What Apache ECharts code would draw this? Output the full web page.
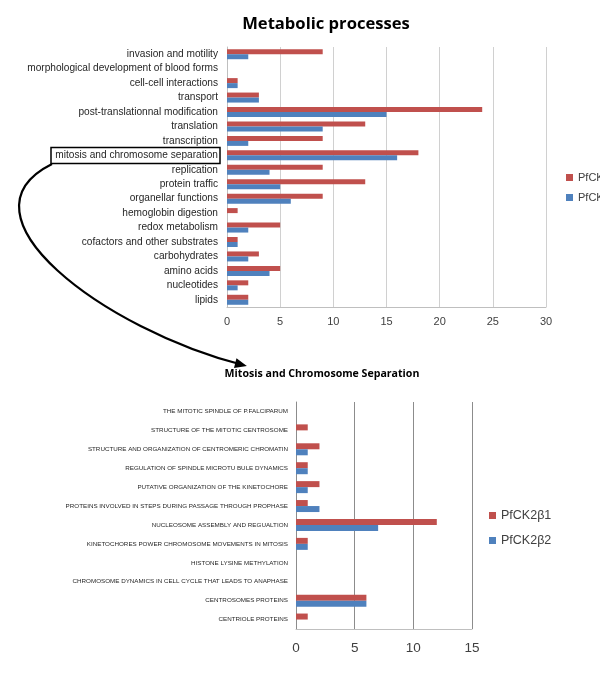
<!DOCTYPE html>
<html>
<head>
<meta charset="utf-8">
<script src="https://cdn.jsdelivr.net/npm/echarts@6/dist/echarts.min.js"></script>
<style>html,body{margin:0;padding:0;background:#fff}#c{width:600px;height:679px}</style>
</head>
<body>
<div id="c"></div>
<script>
// ---- Data: Metabolic processes ----
const metaCategories = [
  "invasion and motility",
  "morphological development of blood forms",
  "cell-cell interactions",
  "transport",
  "post-translationnal modification",
  "translation",
  "transcription",
  "mitosis and chromosome separation",
  "replication",
  "protein traffic",
  "organellar functions",
  "hemoglobin digestion",
  "redox metabolism",
  "cofactors and other substrates",
  "carbohydrates",
  "amino acids",
  "nucleotides",
  "lipids"
];
const metaB1 = [9, 0, 1, 3, 24, 13, 9, 18, 9, 13, 9, 1, 5, 1, 3, 5, 2, 2];
const metaB2 = [2, 0, 1, 3, 15, 9, 2, 16, 4, 5, 6, 0, 2, 1, 2, 4, 1, 2];
const metaTicks = [0, 5, 10, 15, 20, 25, 30];

// ---- Data: Mitosis and Chromosome Separation ----
const mitoCategories = [
  "THE MITOTIC SPINDLE OF P.FALCIPARUM",
  "STRUCTURE OF THE MITOTIC CENTROSOME",
  "STRUCTURE AND ORGANIZATION OF CENTROMERIC CHROMATIN",
  "REGULATION OF SPINDLE MICROTU BULE DYNAMICS",
  "PUTATIVE ORGANIZATION OF THE KINETOCHORE",
  "PROTEINS INVOLVED IN STEPS DURING PASSAGE THROUGH PROPHASE",
  "NUCLEOSOME ASSEMBLY AND REGUALTION",
  "KINETOCHORES POWER CHROMOSOME MOVEMENTS IN MITOSIS",
  "HISTONE LYSINE METHYLATION",
  "CHROMOSOME DYNAMICS IN CELL CYCLE THAT LEADS TO ANAPHASE",
  "CENTROSOMES PROTEINS",
  "CENTRIOLE PROTEINS"
];
const mitoB1 = [0, 1, 2, 1, 2, 1, 12, 1, 0, 0, 6, 1];
const mitoB2 = [0, 0, 1, 1, 1, 2, 7, 1, 0, 0, 6, 0];
const mitoTicks = [0, 5, 10, 15];

const topLegendNames = ["PfCK", "PfCK"];
const seriesNames = ["PfCK2β1", "PfCK2β2"];

const RED = '#C0504D', BLUE = '#4F81BD';
const FONT = 'Liberation Sans';

const chart = echarts.init(document.getElementById('c'), null, {renderer: 'canvas'});

// annotation curve geometry
const P0 = [52, 164], C1 = [-50, 215], C2 = [105, 330], P3 = [243, 365];
const dx = P3[0] - C2[0], dy = P3[1] - C2[1];
const len = Math.sqrt(dx*dx + dy*dy);
const ux = dx/len, uy = dy/len;
const ah = 12, aw = 5;
const tip = [P3[0] + ux*4, P3[1] + uy*4];
const base = [tip[0] - ux*ah, tip[1] - uy*ah];
const arrowPts = [tip, [base[0] - uy*aw, base[1] + ux*aw], [base[0] + uy*aw, base[1] - ux*aw]];

chart.setOption({
  animation: false,
  textStyle: {fontFamily: FONT},
  title: [
    {text: 'Metabolic processes', left: 321, top: 11, textAlign: 'center',
     textStyle: {fontFamily: 'Open Sans', fontWeight: 'bold', fontSize: 16.6, color: '#000'}},
    {text: 'Mitosis and Chromosome Separation', left: 317, top: 363, textAlign: 'center',
     textStyle: {fontFamily: 'Open Sans', fontWeight: 'bold', fontSize: 10.6, color: '#000'}}
  ],
  legend: [
    {orient: 'vertical', left: 561, top: 167, itemWidth: 7, itemHeight: 7, itemGap: 9,
     icon: 'rect', data: ['top1', 'top2'],
     formatter: function (n) { return n === 'top1' ? topLegendNames[0] : topLegendNames[1]; },
     textStyle: {fontSize: 11, color: '#404040', fontFamily: FONT}},
    {orient: 'vertical', left: 484, top: 504, itemWidth: 7, itemHeight: 7, itemGap: 12,
     icon: 'rect', data: seriesNames,
     textStyle: {fontSize: 12.5, color: '#404040', fontFamily: FONT}}
  ],
  grid: [
    {left: 227, top: 47, width: 319, height: 260},
    {left: 296, top: 402, width: 176, height: 227}
  ],
  xAxis: [
    {gridIndex: 0, type: 'value', min: metaTicks[0], max: metaTicks[metaTicks.length-1], interval: 5,
     axisLine: {show: true, lineStyle: {color: '#BFBFBF'}}, axisTick: {show: false},
     splitLine: {show: true, lineStyle: {color: '#D0D0D0'}},
     axisLabel: {fontSize: 11, color: '#404040', margin: 9}},
    {gridIndex: 1, type: 'value', min: mitoTicks[0], max: mitoTicks[mitoTicks.length-1], interval: 5,
     axisLine: {show: true, lineStyle: {color: '#BFBFBF'}}, axisTick: {show: false},
     splitLine: {show: true, lineStyle: {color: '#8C8C8C'}},
     axisLabel: {fontSize: 13.5, color: '#404040', margin: 12}}
  ],
  yAxis: [
    {gridIndex: 0, type: 'category', inverse: true, data: metaCategories,
     axisLine: {show: true, lineStyle: {color: '#BFBFBF'}}, axisTick: {show: false},
     axisLabel: {fontSize: 10.15, color: '#262626', margin: 9, interval: 0}},
    {gridIndex: 1, type: 'category', inverse: true, data: mitoCategories,
     axisLine: {show: true, lineStyle: {color: '#8C8C8C'}}, axisTick: {show: false},
     axisLabel: {fontSize: 6.25, color: '#262626', margin: 8, interval: 0}}
  ],
  series: [
    {name: 'top1', type: 'bar', xAxisIndex: 0, yAxisIndex: 0, data: metaB1, barWidth: 5, barGap: '0%',
     itemStyle: {color: RED}},
    {name: 'top2', type: 'bar', xAxisIndex: 0, yAxisIndex: 0, data: metaB2, barWidth: 5, barGap: '0%',
     itemStyle: {color: BLUE}},
    {name: seriesNames[0], type: 'bar', xAxisIndex: 1, yAxisIndex: 1, data: mitoB1, barWidth: 6, barGap: '0%',
     itemStyle: {color: RED}},
    {name: seriesNames[1], type: 'bar', xAxisIndex: 1, yAxisIndex: 1, data: mitoB2, barWidth: 6, barGap: '0%',
     itemStyle: {color: BLUE}}
  ],
  graphic: [
    {type: 'rect', shape: {x: 51, y: 147.5, width: 169, height: 16},
     style: {fill: 'none', stroke: '#000', lineWidth: 1.5}, z: 100},
    {type: 'bezierCurve',
     shape: {x1: P0[0], y1: P0[1], cpx1: C1[0], cpy1: C1[1], cpx2: C2[0], cpy2: C2[1], x2: P3[0], y2: P3[1]},
     style: {fill: 'none', stroke: '#000', lineWidth: 2.2}, z: 100},
    {type: 'polygon', shape: {points: arrowPts}, style: {fill: '#000'}, z: 100}
  ]
});
</script>
</body>
</html>
